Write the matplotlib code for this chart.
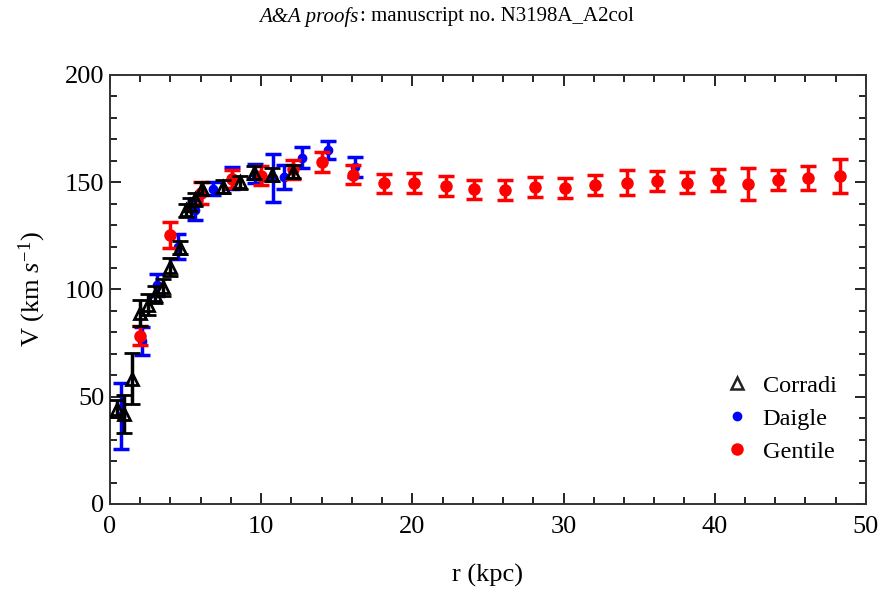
import numpy as np
import matplotlib.pyplot as plt
from matplotlib.lines import Line2D
from matplotlib.ticker import MultipleLocator

plt.rcParams['font.family'] = ['Liberation Serif', 'DejaVu Serif']
plt.rcParams['mathtext.fontset'] = 'custom'
plt.rcParams['mathtext.rm'] = 'Liberation Serif'
plt.rcParams['mathtext.it'] = 'Liberation Serif:italic'

# Corradi (open triangles)
r_corradi = [0.45, 0.95, 1.45, 2.0, 2.5, 3.0, 3.5, 4.0, 4.6, 5.0, 5.3, 5.6, 6.1, 7.5, 8.6, 9.5, 10.7, 12.1]
v_corradi = [44.5, 42.0, 58.5, 89.0, 93.0, 97.5, 101.0, 110.5, 119.5, 137.0, 139.5, 142.0, 147.0, 148.0, 150.0, 154.5, 153.5, 155.0]
e_corradi = [4.0, 9.0, 12.0, 6.0, 5.0, 4.0, 4.0, 4.0, 3.0, 3.0, 3.0, 3.0, 3.0, 3.0, 3.0, 3.0, 3.0, 3.0]

# Daigle (blue dots)
r_daigle = [0.7, 2.1, 3.1, 4.5, 5.6, 6.8, 8.1, 9.6, 10.8, 11.5, 12.7, 14.4, 16.2]
v_daigle = [41.0, 76.0, 102.0, 120.0, 137.0, 147.0, 152.0, 154.0, 152.0, 152.5, 161.5, 165.0, 157.0]
e_daigle = [15.5, 6.5, 5.0, 6.0, 4.5, 3.0, 5.0, 4.5, 11.0, 5.5, 5.0, 4.0, 4.7]

# Gentile (red dots)
r_gentile = [2.0, 4.0, 6.0, 8.1, 10.0, 12.1, 14.0, 16.1, 18.1, 20.1, 22.2, 24.1, 26.1, 28.1,
             30.1, 32.1, 34.2, 36.2, 38.2, 40.2, 42.2, 44.2, 46.2, 48.3]
v_gentile = [78.5, 125.5, 145.0, 151.5, 153.0, 156.0, 159.5, 153.5, 149.5, 149.8, 148.3, 146.7,
             146.4, 147.6, 147.5, 148.7, 149.8, 150.7, 149.8, 151.0, 149.0, 151.0, 151.8, 153.0]
e_gentile = [4.3, 6.0, 5.0, 4.0, 4.4, 4.3, 4.7, 4.5, 4.4, 4.7, 4.7, 4.5, 4.6, 4.7,
             4.7, 4.7, 5.7, 4.7, 5.0, 5.0, 7.5, 4.7, 5.6, 8.0]

fig = plt.figure(figsize=(8.83, 5.97), dpi=100)
ax = fig.add_axes([0.1246, 0.1558, 0.856, 0.7186])

ax.errorbar(r_daigle, v_daigle, yerr=e_daigle, fmt='o', color='#0000ff', ms=6,
            elinewidth=2.5, capsize=5.5, capthick=2.5, zorder=3)
ax.errorbar(r_gentile, v_gentile, yerr=e_gentile, fmt='o', color='#ff0000', ms=8,
            elinewidth=2.5, capsize=5.5, capthick=2.5, zorder=4)
ax.errorbar(r_corradi, v_corradi, yerr=e_corradi, fmt='^', color='black', mfc='none',
            mec='black', mew=2.0, ms=9, elinewidth=2.5, capsize=5.5, capthick=2.5, zorder=5)

ax.set_xlim(0, 50)
ax.set_ylim(0, 200)
ax.xaxis.set_major_locator(MultipleLocator(10))
ax.xaxis.set_minor_locator(MultipleLocator(2))
ax.yaxis.set_major_locator(MultipleLocator(50))
ax.yaxis.set_minor_locator(MultipleLocator(10))
ax.tick_params(which='both', direction='in', top=True, right=True, color='black', width=1.2)
ax.tick_params(which='major', length=8, labelsize=19)
ax.tick_params(axis='x', which='major', pad=9)
ax.tick_params(axis='y', which='major', pad=4)
ax.tick_params(which='minor', length=5)
for s in ax.spines.values():
    s.set_linewidth(1.4)
    s.set_color('#333333')

ax.set_xlabel('r (kpc)', fontsize=19, labelpad=18)
ax.set_ylabel(r'V (km $\mathit{s}^{-1}$)', fontsize=19, labelpad=12)

handles = [
    Line2D([], [], ls='none', marker='^', mfc='none', mec='#222222', mew=1.8, ms=8),
    Line2D([], [], ls='none', marker='o', color='#0000ff', ms=6),
    Line2D([], [], ls='none', marker='o', color='#ff0000', ms=8),
]
ax.legend(handles, ['Corradi', 'Daigle', 'Gentile'], loc='lower right',
          bbox_to_anchor=(0.99, 0.045), frameon=False, fontsize=17.5,
          handletextpad=0.55, labelspacing=0.45, handlelength=1.0)

# running header, italic part then upright part
fig.text(359 / 883, 0.972, 'A&A proofs', style='italic', ha='right', va='center', fontsize=15)
fig.text(360 / 883, 0.972, ': manuscript no. N3198A_A2col', ha='left', va='center', fontsize=15)

fig.savefig('out.png', dpi=100)
